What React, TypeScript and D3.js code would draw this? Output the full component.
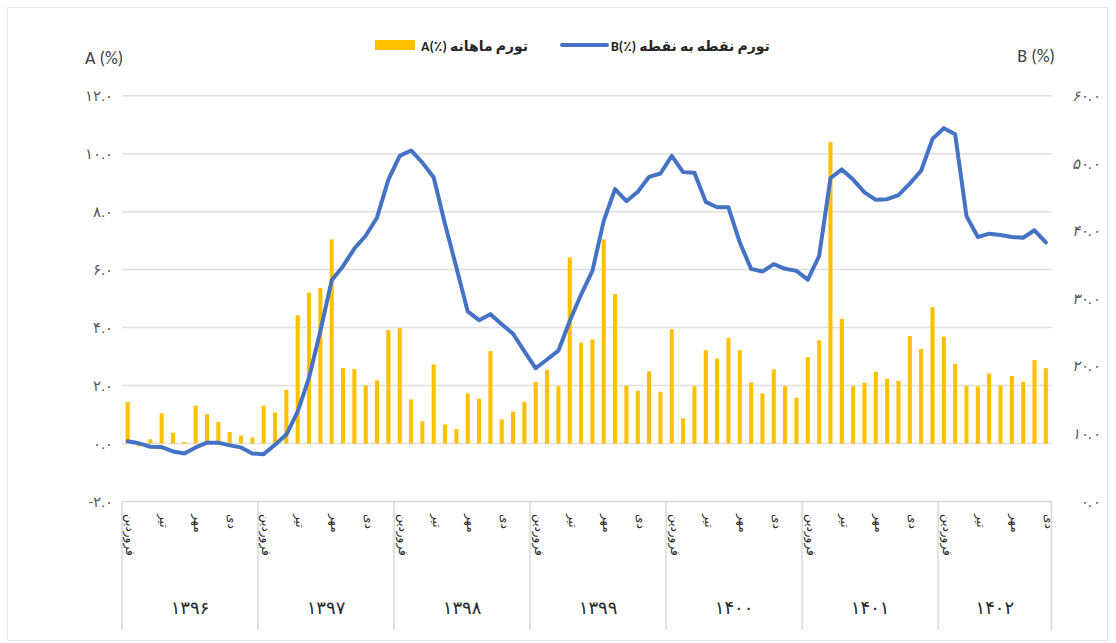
import React from 'react';
import * as d3 from 'd3';

// monthly inflation (A, left axis) and point-to-point inflation (B, right axis)
// Farvardin 1396 .. Dey 1402
const years = ['۱۳۹۶', '۱۳۹۷', '۱۳۹۸', '۱۳۹۹', '۱۴۰۰', '۱۴۰۱', '۱۴۰۲'];
const monthLabels = ['فروردین', '', '', 'تیر', '', '', 'مهر', '', '', 'دی', '', ''];

const monthlyA = [
  1.43, -0.1, 0.15, 1.04, 0.37, 0.05, 1.31, 1.01, 0.74, 0.4, 0.27, 0.21,
  1.31, 1.07, 1.85, 4.42, 5.21, 5.37, 7.04, 2.6, 2.57, 2.0, 2.18, 3.92,
  3.98, 1.52, 0.77, 2.73, 0.66, 0.5, 1.73, 1.55, 3.19, 0.83, 1.1, 1.44,
  2.13, 2.54, 1.98, 6.42, 3.48, 3.59, 7.04, 5.16, 2.0, 1.82, 2.49, 1.79,
  3.94, 0.87, 1.98, 3.22, 2.93, 3.64, 3.22, 2.11, 1.73, 2.56, 1.98, 1.58,
  2.98, 3.56, 10.4, 4.3, 1.98, 2.1, 2.48, 2.23, 2.16, 3.71, 3.26, 4.71,
  3.69, 2.75, 2.0, 1.97, 2.42, 2.0, 2.33, 2.13, 2.88, 2.6,
];

const pointB = [
  8.9, 8.6, 8.1, 8.05, 7.4, 7.1, 8.0, 8.7, 8.7, 8.3, 8.0, 7.1,
  7.0, 8.4, 9.9, 13.3, 18.3, 25.2, 32.7, 34.8, 37.4, 39.3, 42.0, 47.6,
  51.1, 51.9, 50.1, 47.9, 41.0, 34.6, 28.1, 26.8, 27.7, 26.2, 24.8, 22.2,
  19.7, 21.0, 22.3, 26.7, 30.6, 34.1, 41.5, 46.2, 44.4, 45.8, 48.0, 48.5,
  51.1, 48.7, 48.6, 44.3, 43.5, 43.5, 38.3, 34.4, 34.0, 35.1, 34.4, 34.1,
  32.8, 36.3, 47.8, 49.1, 47.6, 45.7, 44.6, 44.7, 45.3, 47.0, 48.9, 53.6,
  55.2, 54.3, 42.2, 39.1, 39.6, 39.4, 39.1, 39.0, 40.1, 38.3,
];

const ticksA = [-2, 0, 2, 4, 6, 8, 10, 12];
const ticksB = [0, 10, 20, 30, 40, 50, 60];

const faDigits = '۰۱۲۳۴۵۶۷۸۹';
const toFa = (s: string) => s.replace(/\d/g, (d) => faDigits[+d]);

const W = 1116;
const H = 643;
const left = 122;
const right = 1051.5;
const top = 95.7;
const bottom = 501.5;

const font = "Calibri, 'Liberation Sans', 'DejaVu Sans', sans-serif";

export default function App() {
  const idx = d3.range(monthlyA.length);
  const x = d3.scaleBand<number>().domain(idx).range([left, right]).paddingInner(0.64).paddingOuter(0.32);
  const step = x.step();
  const cx = (i: number) => (x(i) as number) + x.bandwidth() / 2;
  const yA = d3.scaleLinear().domain([-2, 12]).range([bottom, top]);
  const yB = d3.scaleLinear().domain([0, 60]).range([bottom, top]);

  const line = d3.line<number>().x((_, i) => cx(i)).y((d) => yB(d));

  const yearStart = (k: number) => left + k * 12 * step;

  return (
    <svg width={W} height={H} style={{ position: 'absolute', left: 0, top: 0 }} fontFamily={font}>
      <rect x={0} y={0} width={W} height={H} fill="#fff" />
      <rect x={7.5} y={7.5} width={1100} height={633} fill="none" stroke="#e6e6e6" />

      {/* gridlines */}
      {ticksA.filter((t) => t > -2).map((t) => (
        <line key={t} x1={left} x2={right} y1={yA(t)} y2={yA(t)} stroke="#e0e0e0" strokeWidth={1.5} />
      ))}
      <line x1={left} x2={right} y1={bottom} y2={bottom} stroke="#d9d9d9" strokeWidth={1.5} />

      {/* left axis labels */}
      {ticksA.map((t) => (
        <text key={t} x={113} y={yA(t)} dy="0.35em" textAnchor="end" fontSize={15} fill="#595959">
          {(t < 0 ? '-' : '') + toFa(Math.abs(t).toFixed(1))}
        </text>
      ))}
      {/* right axis labels */}
      {ticksB.map((t) => (
        <text key={t} x={1100} y={yB(t)} dy="0.35em" textAnchor="end" fontSize={15} fill="#595959" fontStyle="italic">
          {toFa(t.toFixed(1))}
        </text>
      ))}

      <text x={85} y={64} fontSize={18} fill="#404040">A (%)</text>
      <text x={1055} y={62} fontSize={18} fill="#404040" textAnchor="end">B (%)</text>

      {/* legend */}
      <rect x={375} y={40} width={40} height={10} fill="#FFC000" />
      <text x={421} y={51} fontSize={14} fontWeight="bold" fill="#262626">A(٪) تورم ماهانه</text>
      <line x1={562} x2={607} y1={45} y2={45} stroke="#4472C4" strokeWidth={4} strokeLinecap="round" />
      <text x={611} y={51} fontSize={14} fontWeight="bold" fill="#262626">B(٪) تورم نقطه به نقطه</text>

      {/* bars */}
      {monthlyA.map((v, i) => (
        <rect
          key={i}
          x={x(i)}
          width={x.bandwidth()}
          y={Math.min(yA(v), yA(0))}
          height={Math.abs(yA(v) - yA(0))}
          fill="#FFC000"
        />
      ))}

      {/* line */}
      <path d={line(pointB) || ''} fill="none" stroke="#4472C4" strokeWidth={4} strokeLinejoin="round" strokeLinecap="round" />

      {/* category axis */}
      {years.map((yr, k) => {
        const x0 = yearStart(k);
        const x1 = Math.min(yearStart(k + 1), right);
        return (
          <g key={yr}>
            <line x1={x0} x2={x0} y1={bottom} y2={630} stroke="#d9d9d9" strokeWidth={1.5} />
            <text x={(x0 + x1) / 2} y={614} textAnchor="middle" fontSize={18} fill="#262626">{yr}</text>
          </g>
        );
      })}
      <line x1={right} x2={right} y1={bottom} y2={630} stroke="#d9d9d9" strokeWidth={1.5} />
      {idx.map((i) => {
        const lab = monthLabels[i % 12];
        if (!lab) return null;
        const px = cx(i) + 3;
        return (
          <text key={i} transform={`translate(${px},514) rotate(90)`} dy="0.35em" fontSize={12} fill="#262626">
            {lab}
          </text>
        );
      })}
    </svg>
  );
}
